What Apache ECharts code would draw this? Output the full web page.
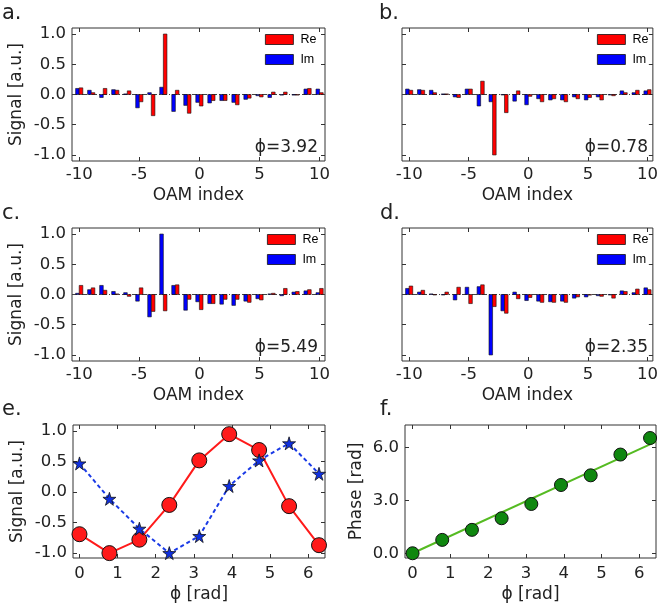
<!DOCTYPE html>
<html><head><meta charset="utf-8">
<script src="https://cdn.jsdelivr.net/npm/echarts@6/dist/echarts.min.js"></script>
<style>html,body{margin:0;padding:0;background:#fff}#c{width:661px;height:611px}</style>
</head><body><div id="c"></div>
<script>
// ---------- data ----------
const oamIndex = [-10,-9,-8,-7,-6,-5,-4,-3,-2,-1,0,1,2,3,4,5,6,7,8,9,10];
const reA = [0.11,0.03,0.10,0.07,0.06,-0.12,-0.35,1.00,0.07,-0.31,-0.19,-0.10,-0.10,-0.17,-0.06,-0.04,0.04,0.04,-0.01,0.10,0.03];
const imA = [0.10,0.07,-0.05,0.08,0.01,-0.22,0.03,0.12,-0.28,-0.18,-0.13,-0.14,-0.10,-0.13,-0.08,-0.02,-0.05,-0.01,-0.01,0.09,0.09];
const reB = [0.07,0.07,0.03,0.01,-0.05,0.09,0.22,-1.00,-0.30,0.06,-0.03,-0.12,-0.07,-0.12,-0.07,-0.05,-0.09,-0.02,0.03,0.07,0.08];
const imB = [0.09,0.08,0.07,0.01,-0.04,0.09,-0.19,-0.12,0.00,-0.11,-0.17,-0.07,-0.09,-0.09,-0.04,-0.09,-0.04,0.00,0.06,0.03,0.06];
const reC = [0.15,0.11,0.07,0.01,-0.03,0.11,-0.28,-0.27,0.16,-0.08,-0.25,-0.15,-0.08,-0.08,-0.13,-0.09,0.02,0.10,0.05,0.08,0.10];
const imC = [0.02,0.08,0.15,0.05,0.03,-0.11,-0.37,1.00,0.15,-0.26,-0.12,-0.15,-0.16,-0.18,-0.11,-0.07,0.01,-0.02,0.04,0.06,0.03];
const reD = [0.14,0.07,0.00,0.04,0.12,-0.15,0.16,-0.20,-0.31,-0.07,-0.05,-0.13,-0.13,-0.13,-0.04,-0.01,-0.03,-0.06,0.05,0.09,0.08];
const imD = [0.10,0.04,0.01,0.00,-0.09,0.12,0.13,-1.00,-0.27,0.04,-0.10,-0.11,-0.12,-0.11,-0.06,-0.04,-0.02,0.00,0.06,0.03,0.11];
const phiLabels = ['ϕ=3.92','ϕ=0.78','ϕ=5.49','ϕ=2.35'];
const phi = [0,0.785,1.571,2.356,3.142,3.927,4.712,5.498,6.283];
const reSignal = [-0.69,-1.00,-0.78,-0.21,0.52,0.95,0.69,-0.23,-0.87];
const imSignal = [0.47,-0.11,-0.60,-1.00,-0.72,0.10,0.52,0.80,0.30];
const phase = [0.00,0.76,1.33,1.99,2.80,3.88,4.43,5.61,6.55];
const fitX = [0, 6.44];
const fitY = [0, 6.34];
const barTicksX = [-10,-5,0,5,10];
const barTicksY = [-1,-0.5,0,0.5,1];
const eTicksX = [0,1,2,3,4,5,6];
const eTicksY = [-1,-0.5,0,0.5,1];
const fTicksY = [0,3,6];

// ---------- layout ----------
const FONT = 'DejaVu Sans';
const TICK_FS = 16.5, NAME_FS = 17;
const grids = [
  {left:72, top:28, width:253, height:133},
  {left:402, top:28, width:253, height:133},
  {left:72, top:228, width:253, height:133},
  {left:402, top:228, width:253, height:133},
  {left:73, top:425, width:252, height:133},
  {left:405, top:425, width:251, height:133}
];
const frame = '#333';
const fmt1 = v => Number(v).toFixed(1);
function xAx(g, min, max, ticks, name, top){
  return {type:'value', gridIndex:g, min, max, position: top?'top':'bottom',
    axisLine:{show:false, onZero:false}, splitLine:{show:false},
    axisTick:{show:true, inside:true, length:4, customValues:ticks, lineStyle:{color:frame}},
    axisLabel:{show:!top, customValues:ticks, margin:5, fontFamily:FONT, fontSize:TICK_FS, color:'#222'},
    name: top?'':name, nameLocation:'middle', nameGap:26,
    nameTextStyle:{fontFamily:FONT, fontSize:NAME_FS, color:'#222'}};
}
function yAx(g, min, max, ticks, name, right, showLabels, gap, f){
  return {type:'value', gridIndex:g, min, max, position: right?'right':'left',
    axisLine:{show:false, onZero:false}, splitLine:{show:false},
    axisTick:{show:true, inside:true, length:4, customValues:ticks, lineStyle:{color:frame}},
    axisLabel:{show:!right && showLabels, customValues:ticks, margin:6, formatter:f||fmt1, fontFamily:FONT, fontSize:TICK_FS, color:'#222'},
    name: (right||!showLabels)?'':name, nameLocation:'middle', nameGap:gap||47,
    nameTextStyle:{fontFamily:FONT, fontSize:NAME_FS, color:'#222'}};
}
const xAxes = [], yAxes = [];
for (let i=0;i<4;i++){
  xAxes.push(xAx(i,-10.6,10.45,barTicksX,'OAM index',false));
  yAxes.push(yAx(i,-1.1,1.1,barTicksY,'Signal [a.u.]',false, i%2===0));
}
xAxes.push(xAx(4,-0.17,6.44,eTicksX,'ϕ [rad]',false));
yAxes.push(yAx(4,-1.08,1.1,eTicksY,'Signal [a.u.]',false,true,47));
xAxes.push(xAx(5,-0.2,6.44,eTicksX,'ϕ [rad]',false));
yAxes.push(yAx(5,-0.27,7.29,fTicksY,'Phase [rad]',false,true,40));
xAxes[4].nameGap = 28; xAxes[5].nameGap = 28;
xAxes[4].axisLabel.margin = 7; xAxes[5].axisLabel.margin = 7;
// secondary (top/right) tick axes
for (let i=0;i<6;i++){
  const xa = xAxes[i], ya = yAxes[i];
  xAxes.push(xAx(i, xa.min, xa.max, xa.axisTick.customValues, '', true));
  yAxes.push(yAx(i, ya.min, ya.max, ya.axisTick.customValues, '', true, false));
}

function barRender(side){
  return function(params, api){
    const x = api.value(0), v = api.value(1), w = 0.3;
    const x0 = side < 0 ? x - w : x, x1 = side < 0 ? x : x + w;
    const a = api.coord([x0, 0]), b = api.coord([x1, v]);
    return {type:'rect', shape:{x:Math.min(a[0],b[0]), y:Math.min(a[1],b[1]), width:Math.abs(b[0]-a[0]), height:Math.max(0.5,Math.abs(b[1]-a[1]))},
      style:{fill:api.visual('color'), stroke:'#111', lineWidth:0.6}};
  };
}
const barSets = [[reA,imA],[reB,imB],[reC,imC],[reD,imD]];
const series = [];
barSets.forEach((pair,i)=>{
  series.push({type:'custom', name:'Im', xAxisIndex:i, yAxisIndex:i, renderItem:barRender(-1),
    itemStyle:{color:'#0000ff'}, data: oamIndex.map((k,j)=>[k, pair[1][j]]),
    markLine:{silent:true, symbol:['none','none'], label:{show:false}, z:1,
      lineStyle:{color:'#444', width:1, type:[5,2,1,2]}, data:[{yAxis:0}]}});
  series.push({type:'custom', name:'Re', xAxisIndex:i, yAxisIndex:i, renderItem:barRender(1),
    itemStyle:{color:'#ff0000'}, data: oamIndex.map((k,j)=>[k, pair[0][j]])});
});
const star = 'path://M50,0 L61,35 L98,35 L68,57 L79,91 L50,70 L21,91 L32,57 L2,35 L39,35 Z';
series.push({type:'line', name:'ReSig', xAxisIndex:4, yAxisIndex:4, data: phi.map((p,j)=>[p, reSignal[j]]),
  symbol:'circle', symbolSize:15, lineStyle:{color:'#ff1a1a', width:2},
  itemStyle:{color:'#ff1a1a', borderColor:'#111', borderWidth:1, opacity:1}});
series.push({type:'line', name:'ImSig', xAxisIndex:4, yAxisIndex:4, data: phi.map((p,j)=>[p, imSignal[j]]),
  symbol:star, symbolSize:13, lineStyle:{color:'#1a3ae6', width:2, type:[4,3]},
  itemStyle:{color:'#1030e0', borderColor:'#111', borderWidth:0.8, opacity:1}});
series.push({type:'line', name:'Fit', xAxisIndex:5, yAxisIndex:5, data: fitX.map((p,j)=>[p, fitY[j]]),
  symbol:'none', lineStyle:{color:'#55bb22', width:2}, z:1});
series.push({type:'scatter', name:'Phase', xAxisIndex:5, yAxisIndex:5, data: phi.map((p,j)=>[p, phase[j]]),
  symbol:'circle', symbolSize:13, itemStyle:{color:'#0f870f', borderColor:'#111', borderWidth:1, opacity:1}, z:3});

const legendPos = [[265,33],[597,33],[267,233],[597,233]];
const legends = legendPos.map(p=>({data:['Re','Im'], left:p[0], top:p[1], orient:'vertical', icon:'rect',
  itemWidth:28, itemHeight:10, itemGap:7, padding:0, selectedMode:false,
  itemStyle:{borderColor:'#111', borderWidth:0.8},
  textStyle:{fontFamily:'Liberation Sans', fontSize:12.5, color:'#000', lineHeight:12, padding:[0,0,0,2]}}));

const letters = [['a.',2,14],['b.',379,14],['c.',2,214],['d.',380,214],['e.',2,410],['f.',380,410]];
const graphic = letters.map(l=>({type:'text', x:l[1], y:l[2], style:{text:l[0], font:'21px "DejaVu Sans"', fill:'#222', verticalAlign:'middle'}}));
const phiPos = [[318,148],[648,148],[318,348],[648,348]];
phiPos.forEach((p,i)=>graphic.push({type:'text', x:p[0], y:p[1], style:{text:phiLabels[i], font:'17px "DejaVu Sans"', fill:'#222', align:'right', verticalAlign:'middle'}}));

const chart = echarts.init(document.getElementById('c'), null, {renderer:'canvas'});
chart.setOption({
  backgroundColor:'#fff', animation:false,
  grid: grids.map(g=>Object.assign({show:true, borderColor:frame, borderWidth:1, backgroundColor:'transparent', containLabel:false}, g)),
  xAxis:xAxes, yAxis:yAxes, series, legend:legends, graphic
});
</script></body></html>
